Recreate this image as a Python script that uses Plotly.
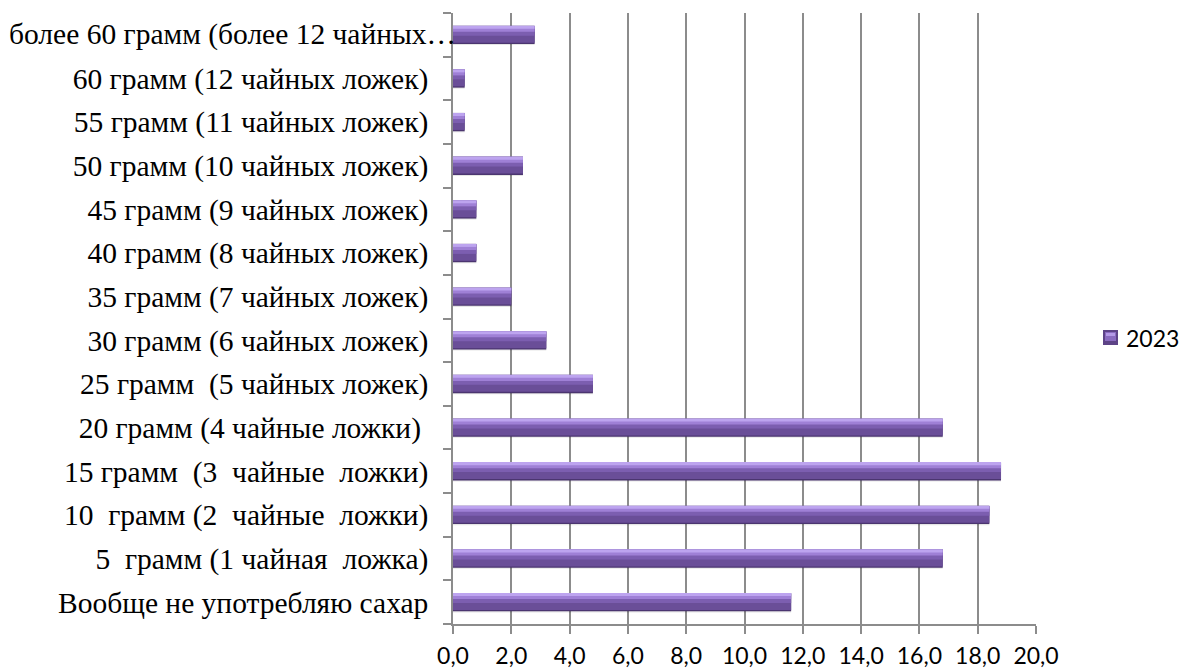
import plotly.graph_objects as go

# Survey categories, listed bottom-to-top as they appear on the axis
categories = [
    "Вообще не употребляю сахар",
    "5\u00a0 грамм (1 чайная\u00a0 ложка)",
    "10\u00a0 грамм (2\u00a0 чайные\u00a0 ложки)",
    "15 грамм\u00a0 (3\u00a0 чайные\u00a0 ложки)",
    "20 грамм (4 чайные ложки)\u00a0",
    "25 грамм\u00a0 (5 чайных ложек)",
    "30 грамм (6 чайных ложек)",
    "35 грамм (7 чайных ложек)",
    "40 грамм (8 чайных ложек)",
    "45 грамм (9 чайных ложек)",
    "50 грамм (10 чайных ложек)",
    "55 грамм (11 чайных ложек)",
    "60 грамм (12 чайных ложек)",
    "более 60 грамм (более 12 чайных…",
]
values_2023 = [11.6, 16.8, 18.4, 18.8, 16.8, 4.8, 3.2, 2.0, 0.8, 0.8, 2.4, 0.4, 0.4, 2.8]
series_name = "2023"
x_ticks = [0, 2, 4, 6, 8, 10, 12, 14, 16, 18, 20]
x_tick_labels = ["0,0", "2,0", "4,0", "6,0", "8,0", "10,0", "12,0", "14,0", "16,0", "18,0", "20,0"]

# Bevelled bar look: stacked bands of the same bar, dark edge at the bottom,
# light rim along the top
bands = [
    # (offset, width, colour)
    (-0.235, 0.42, "rgba(0,0,0,0.10)"),   # soft drop shadow
    (-0.21, 0.42, "#4b3570"),
    (-0.18, 0.38, "#6a4e98"),
    (-0.02, 0.22, "#7c5eb0"),
    (0.07, 0.13, "#9f80d6"),
    (0.14, 0.07, "#bda4ef"),
]

serif = "Liberation Serif, Times New Roman, serif"
sans = "Lato, Open Sans, sans-serif"

fig = go.Figure()
for i, (off, w, col) in enumerate(bands):
    fig.add_trace(go.Bar(
        y=categories,
        x=values_2023,
        orientation="h",
        offset=off,
        width=w,
        marker=dict(color=col, line=dict(width=0)),
        name=series_name,
        showlegend=False,
        hoverinfo="skip" if i != 2 else None,
    ))

# The long last label is truncated and runs right up to the axis line
y_ticktext = list(categories[:-1]) + [""]
fig.add_annotation(
    x=0, xref="paper", xanchor="right", xshift=5,
    y=categories[-1], yref="y", yanchor="middle",
    text=categories[-1], showarrow=False,
    font=dict(family=serif, size=29.5, color="#000"),
)

# Legend key: bevelled square and series name, to the right of the plot
px_w, px_h = 583.0, 611.0   # plot area size in pixels


def px_x(x):
    return (x - 453) / px_w


def px_y(y):
    return (624 - y) / px_h


fig.add_shape(type="rect", xref="paper", yref="paper",
              x0=px_x(1103), x1=px_x(1118), y0=px_y(345), y1=px_y(330),
              fillcolor="#5d4387", line=dict(width=0))
fig.add_shape(type="rect", xref="paper", yref="paper",
              x0=px_x(1105), x1=px_x(1116), y0=px_y(341), y1=px_y(332),
              fillcolor="#8a6bc0", line=dict(width=0))
fig.add_shape(type="rect", xref="paper", yref="paper",
              x0=px_x(1106), x1=px_x(1115), y0=px_y(336), y1=px_y(333),
              fillcolor="#b49ae6", line=dict(width=0))
fig.add_annotation(
    x=px_x(1124), xref="paper", xanchor="left",
    y=px_y(338), yref="paper", yanchor="middle",
    text=series_name, showarrow=False,
    font=dict(family=sans, size=23, color="#000"),
)

fig.update_layout(
    width=1180,
    height=670,
    margin=dict(l=453, r=144, t=13, b=46, autoexpand=False),
    paper_bgcolor="white",
    plot_bgcolor="white",
    barmode="overlay",
    showlegend=False,
    xaxis=dict(
        range=[0, 20],
        tickvals=x_ticks,
        ticktext=x_tick_labels,
        automargin=False,
        showgrid=True,
        gridcolor="#8c8c8c",
        gridwidth=1.5,
        zeroline=False,
        showline=True,
        linecolor="#8c8c8c",
        linewidth=1.5,
        ticks="outside",
        ticklen=8,
        tickwidth=1.5,
        tickcolor="#8c8c8c",
        ticklabelstandoff=3,
        tickfont=dict(family=sans, size=23, color="#000"),
    ),
    yaxis=dict(
        type="category",
        categoryorder="array",
        categoryarray=categories,
        tickvals=categories,
        ticktext=y_ticktext,
        range=[-0.5, len(categories) - 0.5],
        automargin=False,
        showgrid=False,
        zeroline=False,
        showline=True,
        linecolor="#8c8c8c",
        linewidth=1.5,
        ticks="outside",
        tickson="boundaries",
        ticklen=8,
        tickwidth=1.5,
        tickcolor="#8c8c8c",
        ticklabelstandoff=17,
        tickfont=dict(family=serif, size=29.5, color="#000"),
    ),
)

fig.write_html("out.html")
